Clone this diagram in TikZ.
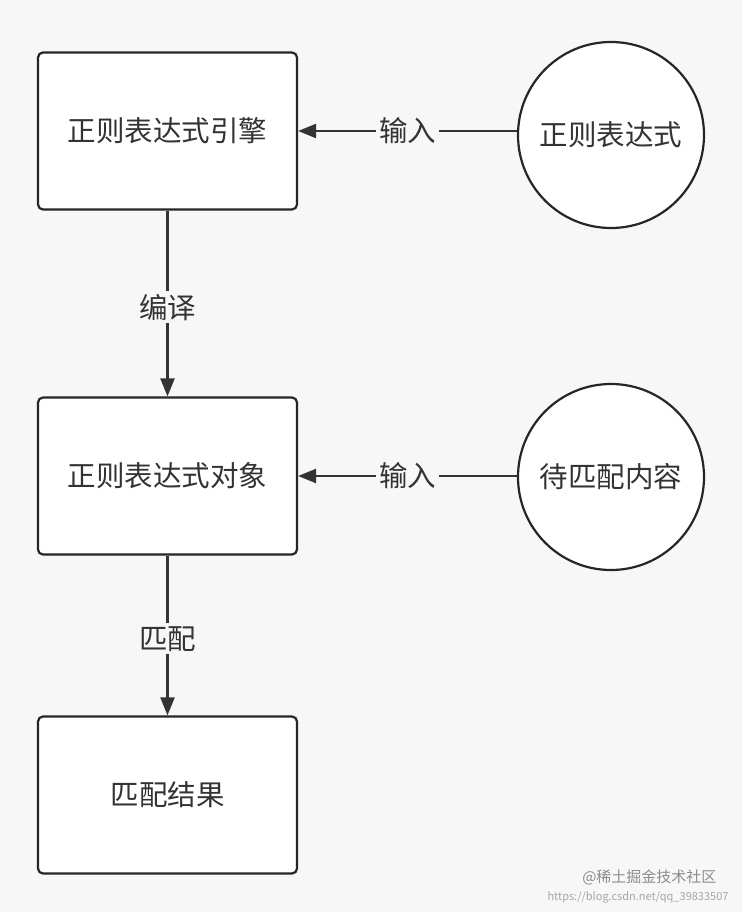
\documentclass[tikz,border=0pt]{standalone}
\usepackage{fontspec}
\newfontfamily\cjk{Noto Sans CJK SC}
\usetikzlibrary{arrows.meta}
\begin{document}
\begin{tikzpicture}[x=1pt,y=-1pt,
  box/.style={draw=black!85,line width=2.2pt,fill=white,rounded corners=5pt,minimum width=259pt,minimum height=157pt,font=\cjk\fontsize{28.5}{32}\selectfont,text=black!80},
  circ/.style={draw=black!85,line width=2.2pt,fill=white,circle,minimum size=186pt,inner sep=0pt,font=\cjk\fontsize{28.5}{32}\selectfont,text=black!80},
  arr/.style={draw=black!80,line width=2.2pt,-{Triangle[length=18pt,width=14pt]}},
  lab/.style={fill=white!97!black,font=\cjk\fontsize{28.5}{32}\selectfont,text=black!80,inner sep=3pt}]
\fill[white!97!black] (0,0) rectangle (742,912);
\useasboundingbox (0,0) rectangle (742,912);
\node[box] (b1) at (167.5,131) {正则表达式引擎};
\node[box] (b2) at (167.5,476) {正则表达式对象};
\node[box] (b3) at (167.5,795) {匹配结果};
\node[circ] (c1) at (611,135) {正则表达式};
\node[circ] (c2) at (611,477) {待匹配内容};
\draw[arr] (c1.west |- b1.east) -- node[lab]{输入} (b1.east);
\draw[arr] (c2.west |- b2.east) -- node[lab]{输入} (b2.east);
\draw[arr] (b1) -- node[lab,pos=0.52]{编译} (b2);
\draw[arr] (b2) -- node[lab,pos=0.52]{匹配} (b3);
\node[font=\cjk\fontsize{11}{12}\selectfont,text=black!35,anchor=east] (wm) at (732,897) {https://blog.csdn.net/qq\_39833507};
\node[font=\cjk\fontsize{15}{16}\selectfont,text=black!45,anchor=east] (wm2) at (720,877) {@稀土掘金技术社区};
\end{tikzpicture}
\end{document}
